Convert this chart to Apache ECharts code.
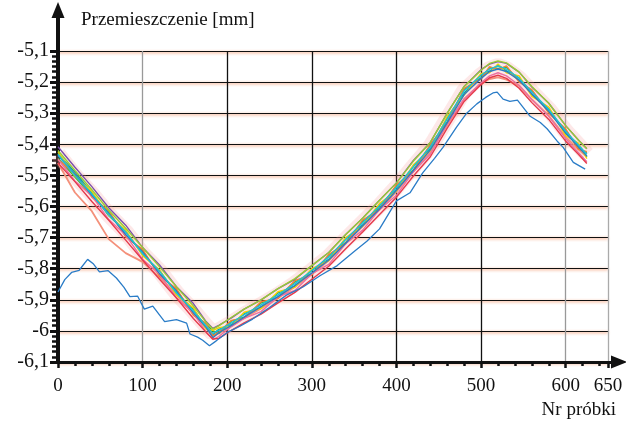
<!DOCTYPE html>
<html>
<head>
<meta charset="utf-8">
<script src="https://cdn.jsdelivr.net/npm/echarts@6/dist/echarts.min.js"></script>
<style>
  html, body { margin: 0; padding: 0; background: #fff; }
  #main { width: 626px; height: 422px; }
</style>
</head>
<body>
<div id="main"></div>
<script>
// sample numbers (x) shared by the bundle of runs
const samples = [0, 20, 40, 60, 80, 100, 120, 140, 160, 175, 183, 190, 205, 220, 240, 260, 280, 300,
  320, 340, 360, 380, 400, 420, 440, 460, 480, 500, 510, 520, 530, 545, 560, 580, 600, 615, 625];

const run1 = [-5.430,-5.490,-5.556,-5.630,-5.680,-5.755,-5.806,-5.880,-5.930,-5.990,-6.012,-5.995,-5.980,-5.944,-5.925,-5.878,-5.856,-5.805,-5.770,-5.704,-5.660,-5.596,-5.545,-5.470,-5.415,-5.315,-5.236,-5.176,-5.165,-5.146,-5.164,-5.186,-5.240,-5.286,-5.365,-5.400,-5.440];
const run2 = [-5.445,-5.505,-5.566,-5.618,-5.694,-5.742,-5.820,-5.868,-5.945,-5.978,-6.000,-6.008,-5.968,-5.956,-5.910,-5.892,-5.842,-5.816,-5.758,-5.716,-5.648,-5.606,-5.534,-5.482,-5.404,-5.328,-5.224,-5.186,-5.154,-5.156,-5.152,-5.196,-5.228,-5.296,-5.354,-5.412,-5.428];
const run3 = [-5.425,-5.502,-5.552,-5.628,-5.676,-5.758,-5.804,-5.884,-5.926,-5.994,-5.998,-5.990,-5.984,-5.940,-5.928,-5.874,-5.860,-5.800,-5.774,-5.700,-5.664,-5.590,-5.550,-5.466,-5.420,-5.310,-5.242,-5.172,-5.170,-5.142,-5.170,-5.180,-5.246,-5.280,-5.372,-5.396,-5.446];
const run4 = [-5.450,-5.494,-5.570,-5.614,-5.698,-5.738,-5.824,-5.864,-5.950,-5.976,-6.016,-6.004,-5.966,-5.960,-5.906,-5.896,-5.838,-5.820,-5.754,-5.720,-5.644,-5.610,-5.530,-5.486,-5.400,-5.332,-5.220,-5.190,-5.150,-5.160,-5.148,-5.200,-5.224,-5.300,-5.350,-5.416,-5.424];
const run5 = [-5.448,-5.518,-5.566,-5.642,-5.692,-5.770,-5.818,-5.894,-5.942,-6.004,-6.028,-6.018,-5.986,-5.960,-5.938,-5.890,-5.870,-5.816,-5.786,-5.720,-5.676,-5.610,-5.564,-5.488,-5.432,-5.334,-5.254,-5.202,-5.180,-5.170,-5.180,-5.210,-5.256,-5.310,-5.382,-5.426,-5.456];
const run6 = [-5.408,-5.474,-5.536,-5.604,-5.660,-5.732,-5.788,-5.858,-5.912,-5.970,-5.992,-5.982,-5.958,-5.930,-5.900,-5.864,-5.834,-5.790,-5.748,-5.690,-5.638,-5.580,-5.524,-5.452,-5.394,-5.300,-5.214,-5.160,-5.142,-5.134,-5.140,-5.168,-5.216,-5.268,-5.340,-5.386,-5.414];
const run7 = [-5.436,-5.496,-5.564,-5.622,-5.690,-5.746,-5.816,-5.872,-5.942,-5.988,-6.022,-6.006,-5.982,-5.956,-5.922,-5.890,-5.854,-5.814,-5.772,-5.718,-5.662,-5.608,-5.548,-5.484,-5.418,-5.330,-5.240,-5.188,-5.166,-5.158,-5.166,-5.194,-5.238,-5.294,-5.364,-5.408,-5.438];
const run8 = [-5.432,-5.500,-5.560,-5.626,-5.682,-5.752,-5.808,-5.878,-5.936,-5.984,-6.008,-5.998,-5.974,-5.948,-5.916,-5.884,-5.848,-5.806,-5.762,-5.706,-5.652,-5.598,-5.538,-5.472,-5.408,-5.318,-5.228,-5.178,-5.158,-5.148,-5.158,-5.188,-5.232,-5.288,-5.358,-5.402,-5.432];
const run9 = [-5.460,-5.520,-5.584,-5.644,-5.708,-5.772,-5.834,-5.894,-5.960,-6.004,-6.026,-6.024,-5.998,-5.974,-5.946,-5.910,-5.876,-5.834,-5.792,-5.736,-5.682,-5.626,-5.570,-5.502,-5.440,-5.348,-5.262,-5.208,-5.186,-5.178,-5.188,-5.220,-5.266,-5.320,-5.390,-5.432,-5.462];
const run10 = [-5.420,-5.484,-5.546,-5.612,-5.670,-5.732,-5.794,-5.858,-5.920,-5.972,-5.994,-5.984,-5.956,-5.930,-5.900,-5.864,-5.832,-5.790,-5.748,-5.690,-5.638,-5.580,-5.524,-5.454,-5.394,-5.300,-5.214,-5.162,-5.140,-5.132,-5.138,-5.168,-5.214,-5.268,-5.340,-5.386,-5.414];
// salmon run lagging below the bundle on the first slope
const runSalmon = [-5.460,-5.555,-5.615,-5.705,-5.750,-5.778,-5.828,-5.884,-5.946,-5.992,-6.016,-6.008,-5.984,-5.958,-5.928,-5.894,-5.858,-5.818,-5.774,-5.716,-5.664,-5.610,-5.552,-5.488,-5.426,-5.338,-5.254,-5.205,-5.190,-5.185,-5.192,-5.212,-5.256,-5.308,-5.376,-5.416,-5.440];

// blue outlier run
const outlierX = [0, 8, 16, 25, 35, 42, 49, 59, 69, 78, 85, 94, 102, 112, 126, 140, 152, 156, 165, 171, 179, 187,
  200, 215, 230, 250, 270, 290, 310, 330, 350, 365, 380, 400, 416, 431, 445, 455, 471, 483, 495, 505, 514, 519,
  526, 534, 543, 558, 570, 578, 590, 597, 609, 623];
const outlierY = [-5.875,-5.835,-5.812,-5.805,-5.770,-5.785,-5.810,-5.806,-5.830,-5.860,-5.890,-5.888,-5.930,-5.920,-5.970,-5.964,-5.975,-6.010,-6.020,-6.030,-6.048,-6.032,
  -6.005,-5.985,-5.962,-5.925,-5.885,-5.858,-5.822,-5.790,-5.745,-5.712,-5.672,-5.582,-5.556,-5.492,-5.445,-5.410,-5.345,-5.300,-5.270,-5.250,-5.235,-5.232,
  -5.255,-5.262,-5.258,-5.310,-5.330,-5.350,-5.390,-5.410,-5.458,-5.480];

const xTicks = [0, 100, 200, 300, 400, 500, 600, 650];
const runs = [run1, run2, run3, run4, run5, run6, run7, run8, run9, run10];
const runColors = ['#00a3a8', '#3cb44b', '#f5d000', '#f58231', '#ec6fa0', '#7b52ab', '#2b7bc4', '#19c0d8', '#e6394b', '#9acd32'];

const pairs = (xs, ys) => xs.map((x, i) => [x, ys[i]]);

const chart = echarts.init(document.getElementById('main'));
const serif = 'Liberation Serif';

let series = [];
// soft pink halo around the bundle
series.push({
  type: 'line', xAxisIndex: 0, yAxisIndex: 0, data: pairs(samples, run8),
  showSymbol: false, silent: true,
  lineStyle: { color: 'rgba(245,150,150,0.22)', width: 16 }
});
series.push({
  type: 'line', xAxisIndex: 0, yAxisIndex: 0, data: pairs(samples, runSalmon),
  showSymbol: false, lineStyle: { color: '#f4907a', width: 1.8 }
});
runs.forEach((r, i) => {
  series.push({
    type: 'line', xAxisIndex: 0, yAxisIndex: 0, data: pairs(samples, r),
    showSymbol: false, lineStyle: { color: runColors[i], width: 1.4 }
  });
});
series.push({
  type: 'line', xAxisIndex: 0, yAxisIndex: 0, data: pairs(outlierX, outlierY),
  showSymbol: false, lineStyle: { color: '#2a7cc7', width: 1.3 }
});

const fmtY = (v) => String(+v.toFixed(1)).replace('.', ',');

chart.setOption({
  animation: false,
  backgroundColor: '#fff',
  title: [
    { text: 'Przemieszczenie [mm]', left: 76, top: 6,
      textStyle: { fontFamily: serif, fontSize: 19, fontWeight: 'normal', color: '#111' } },
    { text: 'Nr próbki', right: 5, top: 396,
      textStyle: { fontFamily: serif, fontSize: 19, fontWeight: 'normal', color: '#111' } }
  ],
  grid: [
    { left: 58, right: 18, top: 51, bottom: 60 },
    { left: 58, right: 7, top: 10, bottom: 60 }
  ],
  xAxis: [
    {
      type: 'value', gridIndex: 0, min: 0, max: 650, interval: 100,
      axisLine: { show: true, lineStyle: { color: '#111', width: 3 } },
      axisTick: { show: true, length: 6, lineStyle: { color: '#111', width: 2.5 } },
      minorTick: { show: true, splitNumber: 5, length: 4, lineStyle: { color: '#111', width: 2.5 } },
      axisLabel: { fontFamily: serif, fontSize: 19, color: '#111', margin: 15,
        formatter: (v) => xTicks.includes(v) ? String(v) : '' },
      splitLine: { show: true, lineStyle: { color: ['#111', '#999', '#111', '#111', '#111', '#111', '#999', '#aaa'], width: 1.3 } }
    },
    {
      type: 'value', gridIndex: 1, min: 0, max: 1,
      axisLine: { show: true, symbol: ['none', 'triangle'], symbolSize: [13, 16],
        lineStyle: { color: '#111', width: 3 } },
      axisTick: { show: false }, axisLabel: { show: false }, splitLine: { show: false }
    }
  ],
  yAxis: [
    {
      type: 'value', gridIndex: 0, min: -6.1, max: -5.1, interval: 0.1,
      axisLine: { show: true, lineStyle: { color: '#111', width: 4 } },
      axisTick: { show: true, length: 8, lineStyle: { color: '#111', width: 3 } },
      minorTick: { show: true, splitNumber: 6, length: 6, lineStyle: { color: '#111', width: 2.5 } },
      axisLabel: { fontFamily: serif, fontSize: 20, color: '#111', margin: 9, formatter: fmtY },
      splitLine: { show: true, lineStyle: { color: '#111', width: 1.2,
        shadowColor: 'rgba(240,110,50,0.9)', shadowBlur: 3, shadowOffsetY: 1 } }
    },
    {
      type: 'value', gridIndex: 1, min: 0, max: 1,
      axisLine: { show: true, symbol: ['none', 'triangle'], symbolSize: [13, 16],
        lineStyle: { color: '#111', width: 4 } },
      axisTick: { show: false }, axisLabel: { show: false }, splitLine: { show: false }
    }
  ],
  series: series
});
</script>
</body>
</html>
